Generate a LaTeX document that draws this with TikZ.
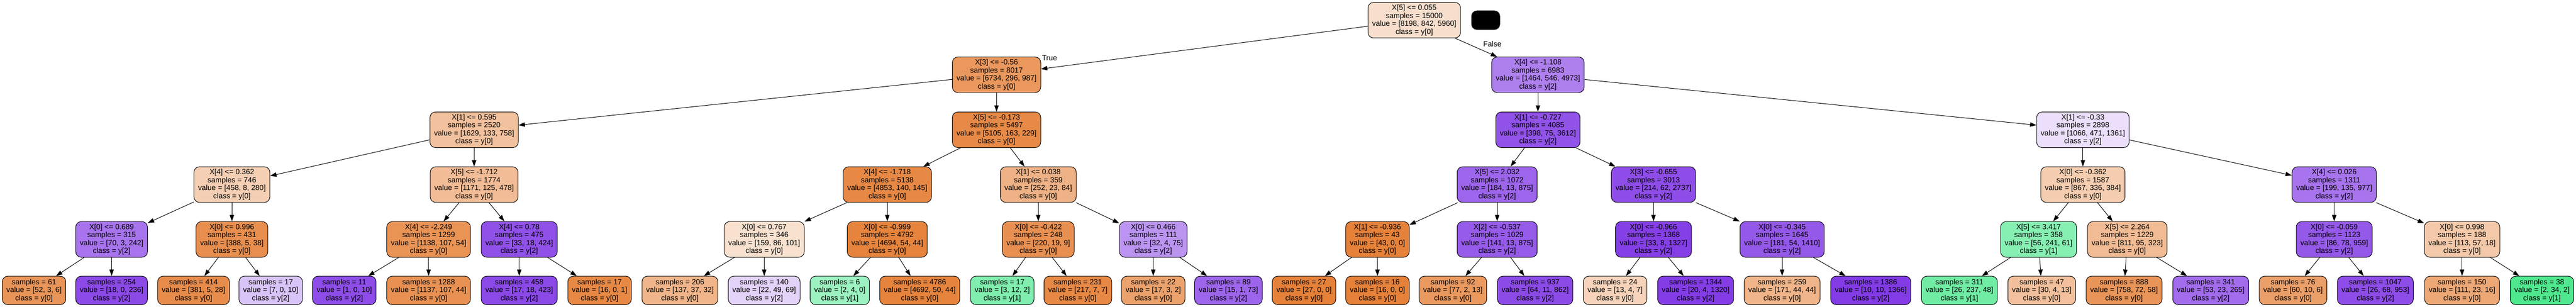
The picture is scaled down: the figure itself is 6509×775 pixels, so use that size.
\documentclass[tikz,border=0pt]{standalone}
\usepackage{fontspec}
\setmainfont{Liberation Sans}
\usetikzlibrary{arrows.meta}
\definecolor{c0}{RGB}{229,129,57}
\definecolor{c1}{RGB}{57,229,129}
\definecolor{c2}{RGB}{129,57,229}
\newcommand\treefont{\fontsize{18.8}{20.1}\selectfont}
\tikzset{
  tn/.style={draw=black, line width=1.3pt, rounded corners=14pt, align=center, font=\treefont, inner xsep=10.5pt, inner ysep=0pt, minimum height=90pt},
  lf/.style={tn, minimum height=72pt},
  k0/.style={fill=c0!#1!white},
  k1/.style={fill=c1!#1!white},
  k2/.style={fill=c2!#1!white},
  ed/.style={-{Triangle[length=16pt,width=11pt]}, line width=1.3pt},
  elab/.style={font=\treefont, inner sep=0pt},
}
\begin{document}
\begin{tikzpicture}[x=1pt,y=-1pt]
\useasboundingbox[fill=white] (0,0) rectangle (6509,775);
% level 0
\node[tn,k0=25] (r) at (3573.5,51) {X[5] <= 0.055\\samples = 15000\\value = [8198, 842, 5960]\\class = y[0]};
\node[draw=black, fill=black, rounded corners=14pt, minimum width=72pt, minimum height=48pt, inner sep=0pt] (blk) at (3754,51) {};
% level 1
\node[tn,k0=82] (a) at (2518,189) {X[3] <= -0.56\\samples = 8017\\value = [6734, 296, 987]\\class = y[0]};
\node[tn,k2=64] (b) at (3886,189) {X[4] <= -1.108\\samples = 6983\\value = [1464, 546, 4973]\\class = y[2]};
% level 2
\node[tn,k0=49] (aa) at (1198,328) {X[1] <= 0.595\\samples = 2520\\value = [1629, 133, 758]\\class = y[0]};
\node[tn,k0=93] (ab) at (2518,328) {X[5] <= -0.173\\samples = 5497\\value = [5105, 163, 229]\\class = y[0]};
\node[tn,k2=87] (ba) at (3886,328) {X[1] <= -0.727\\samples = 4085\\value = [398, 75, 3612]\\class = y[2]};
\node[tn,k2=16] (bb) at (5263,328) {X[1] <= -0.33\\samples = 2898\\value = [1066, 471, 1361]\\class = y[2]};
% level 3
\node[tn,k0=38] (aaa) at (586,466.5) {X[4] <= 0.362\\samples = 746\\value = [458, 8, 280]\\class = y[0]};
\node[tn,k0=53] (aab) at (1198,466.5) {X[5] <= -1.712\\samples = 1774\\value = [1171, 125, 478]\\class = y[0]};
\node[tn,k0=94] (aba) at (2242,466.5) {X[4] <= -1.718\\samples = 5138\\value = [4853, 140, 145]\\class = y[0]};
\node[tn,k0=61] (abb) at (2623.5,466.5) {X[1] <= 0.038\\samples = 359\\value = [252, 23, 84]\\class = y[0]};
\node[tn,k2=78] (baa) at (3783,466.5) {X[5] <= 2.032\\samples = 1072\\value = [184, 13, 875]\\class = y[2]};
\node[tn,k2=90] (bab) at (4178,466.5) {X[3] <= -0.655\\samples = 3013\\value = [214, 62, 2737]\\class = y[2]};
\node[tn,k0=40] (bba) at (5263,466.5) {X[0] <= -0.362\\samples = 1587\\value = [867, 336, 384]\\class = y[0]};
\node[tn,k2=70] (bbb) at (5898,466.5) {X[4] <= 0.026\\samples = 1311\\value = [199, 135, 977]\\class = y[2]};
% level 4
\node[tn,k2=70] (n1) at (282,605) {X[0] <= 0.689\\samples = 315\\value = [70, 3, 242]\\class = y[2]};
\node[tn,k0=89] (n2) at (586,605) {X[0] <= 0.996\\samples = 431\\value = [388, 5, 38]\\class = y[0]};
\node[tn,k0=86] (n3) at (1083,605) {X[4] <= -2.249\\samples = 1299\\value = [1138, 107, 54]\\class = y[0]};
\node[tn,k2=88] (n4) at (1312,605) {X[4] <= 0.78\\samples = 475\\value = [33, 18, 424]\\class = y[2]};
\node[tn,k0=24] (n5) at (1931,605) {X[0] <= 0.767\\samples = 346\\value = [159, 86, 101]\\class = y[0]};
\node[tn,k0=98] (n6) at (2242,605) {X[0] <= -0.999\\samples = 4792\\value = [4694, 54, 44]\\class = y[0]};
\node[tn,k0=88] (n7) at (2623.5,605) {X[0] <= -0.422\\samples = 248\\value = [220, 19, 9]\\class = y[0]};
\node[tn,k2=54] (n8) at (2914,605) {X[0] <= 0.466\\samples = 111\\value = [32, 4, 75]\\class = y[2]};
\node[tn,k0=100] (n9) at (3480.5,605) {X[1] <= -0.936\\samples = 43\\value = [43, 0, 0]\\class = y[0]};
\node[tn,k2=83] (n10) at (3783,605) {X[2] <= -0.537\\samples = 1029\\value = [141, 13, 875]\\class = y[2]};
\node[tn,k2=97] (n11) at (4178,605) {X[0] <= -0.966\\samples = 1368\\value = [33, 8, 1327]\\class = y[2]};
\node[tn,k2=84] (n12) at (4503,605) {X[0] <= -0.345\\samples = 1645\\value = [181, 54, 1410]\\class = y[2]};
\node[tn,k1=61] (n13) at (5151,605) {X[5] <= 3.417\\samples = 358\\value = [56, 241, 61]\\class = y[1]};
\node[tn,k0=54] (n14) at (5375,605) {X[5] <= 2.264\\samples = 1229\\value = [811, 95, 323]\\class = y[0]};
\node[tn,k2=84] (n15) at (5898,605) {X[0] <= -0.059\\samples = 1123\\value = [86, 78, 959]\\class = y[2]};
\node[tn,k0=43] (n16) at (6221,605) {X[0] <= 0.998\\samples = 188\\value = [113, 57, 18]\\class = y[0]};
% level 5 (leaves)
\node[lf,k0=84] (l1) at (86,734) {samples = 61\\value = [52, 3, 6]\\class = y[0]};
\node[lf,k2=92] (l2) at (282,734) {samples = 254\\value = [18, 0, 236]\\class = y[2]};
\node[lf,k0=91] (l3) at (489,734) {samples = 414\\value = [381, 5, 28]\\class = y[0]};
\node[lf,k2=30] (l4) at (684,734) {samples = 17\\value = [7, 0, 10]\\class = y[2]};
\node[lf,k2=90] (l5) at (870,734) {samples = 11\\value = [1, 0, 10]\\class = y[2]};
\node[lf,k0=87] (l6) at (1083,734) {samples = 1288\\value = [1137, 107, 44]\\class = y[0]};
\node[lf,k2=92] (l7) at (1312,734) {samples = 458\\value = [17, 18, 423]\\class = y[2]};
\node[lf,k0=94] (l8) at (1515,734) {samples = 17\\value = [16, 0, 1]\\class = y[0]};
\node[lf,k0=59] (l9) at (1718,734) {samples = 206\\value = [137, 37, 32]\\class = y[0]};
\node[lf,k2=22] (l10) at (1931,734) {samples = 140\\value = [22, 49, 69]\\class = y[2]};
\node[lf,k1=50] (l11) at (2122,734) {samples = 6\\value = [2, 4, 0]\\class = y[1]};
\node[lf,k0=98] (l12) at (2324,734) {samples = 4786\\value = [4692, 50, 44]\\class = y[0]};
\node[lf,k1=64] (l13) at (2532.5,734) {samples = 17\\value = [3, 12, 2]\\class = y[1]};
\node[lf,k0=94] (l14) at (2723.5,734) {samples = 231\\value = [217, 7, 7]\\class = y[0]};
\node[lf,k0=74] (l15) at (2914,734) {samples = 22\\value = [17, 3, 2]\\class = y[0]};
\node[lf,k2=78] (l16) at (3104,734) {samples = 89\\value = [15, 1, 73]\\class = y[2]};
\node[lf,k0=100] (l17) at (3295,734) {samples = 27\\value = [27, 0, 0]\\class = y[0]};
\node[lf,k0=100] (l18) at (3480.5,734) {samples = 16\\value = [16, 0, 0]\\class = y[0]};
\node[lf,k0=81] (l19) at (3671,734) {samples = 92\\value = [77, 2, 13]\\class = y[0]};
\node[lf,k2=91] (l20) at (3879,734) {samples = 937\\value = [64, 11, 862]\\class = y[2]};
\node[lf,k0=35] (l21) at (4081,734) {samples = 24\\value = [13, 4, 7]\\class = y[0]};
\node[lf,k2=98] (l22) at (4284.5,734) {samples = 1344\\value = [20, 4, 1320]\\class = y[2]};
\node[lf,k0=59] (l23) at (4503,734) {samples = 259\\value = [171, 44, 44]\\class = y[0]};
\node[lf,k2=99] (l24) at (4727,734) {samples = 1386\\value = [10, 10, 1366]\\class = y[2]};
\node[lf,k1=72] (l25) at (4951,734) {samples = 311\\value = [26, 237, 48]\\class = y[1]};
\node[lf,k0=50] (l26) at (5159,734) {samples = 47\\value = [30, 4, 13]\\class = y[0]};
\node[lf,k0=84] (l27) at (5367,734) {samples = 888\\value = [758, 72, 58]\\class = y[0]};
\node[lf,k2=74] (l28) at (5586,734) {samples = 341\\value = [53, 23, 265]\\class = y[2]};
\node[lf,k0=76] (l29) at (5794,734) {samples = 76\\value = [60, 10, 6]\\class = y[0]};
\node[lf,k2=90] (l30) at (6002,734) {samples = 1047\\value = [26, 68, 953]\\class = y[2]};
\node[lf,k0=69] (l31) at (6221,734) {samples = 150\\value = [111, 23, 16]\\class = y[0]};
\node[lf,k1=89] (l32) at (6423,734) {samples = 38\\value = [2, 34, 2]\\class = y[1]};
% edge labels
\node[elab] (tl) at (2652,146) {True};
\node[elab] (fl) at (3771,111) {False};
% edges
\draw[ed] (r) -- (a);
\draw[ed] (r) -- (b);
\draw[ed] (a) -- (aa);
\draw[ed] (a) -- (ab);
\draw[ed] (b) -- (ba);
\draw[ed] (b) -- (bb);
\draw[ed] (aa) -- (aaa);
\draw[ed] (aa) -- (aab);
\draw[ed] (ab) -- (aba);
\draw[ed] (ab) -- (abb);
\draw[ed] (ba) -- (baa);
\draw[ed] (ba) -- (bab);
\draw[ed] (bb) -- (bba);
\draw[ed] (bb) -- (bbb);
\draw[ed] (aaa) -- (n1);
\draw[ed] (aaa) -- (n2);
\draw[ed] (aab) -- (n3);
\draw[ed] (aab) -- (n4);
\draw[ed] (aba) -- (n5);
\draw[ed] (aba) -- (n6);
\draw[ed] (abb) -- (n7);
\draw[ed] (abb) -- (n8);
\draw[ed] (baa) -- (n9);
\draw[ed] (baa) -- (n10);
\draw[ed] (bab) -- (n11);
\draw[ed] (bab) -- (n12);
\draw[ed] (bba) -- (n13);
\draw[ed] (bba) -- (n14);
\draw[ed] (bbb) -- (n15);
\draw[ed] (bbb) -- (n16);
\foreach \p/\c/\d in {n1/l1/l2, n2/l3/l4, n3/l5/l6, n4/l7/l8, n5/l9/l10, n6/l11/l12, n7/l13/l14, n8/l15/l16, n9/l17/l18, n10/l19/l20, n11/l21/l22, n12/l23/l24, n13/l25/l26, n14/l27/l28, n15/l29/l30, n16/l31/l32}{
  \draw[ed] (\p) -- (\c);
  \draw[ed] (\p) -- (\d);
}
\end{tikzpicture}
\end{document}
